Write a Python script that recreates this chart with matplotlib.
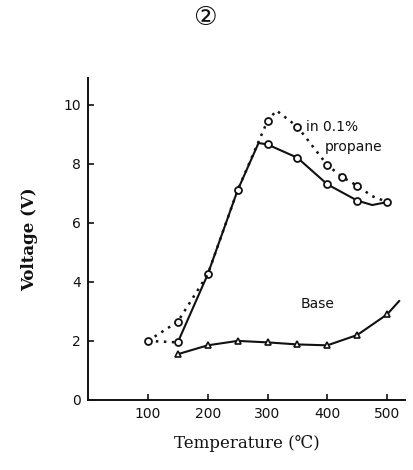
# Sensor voltage vs. temperature, base air and in 0.1% propane (scanned figure).

import matplotlib.pyplot as plt

# Readings taken off the scanned chart
temp_propane = [150, 200, 250, 285, 300, 350, 400, 450, 475, 500]
volt_propane = [1.95, 4.25, 7.1, 8.7, 8.65, 8.2, 7.3, 6.75, 6.6, 6.7]
mark_propane_t = [150, 200, 250, 300, 350, 400, 450, 500]
mark_propane_v = [1.95, 4.25, 7.1, 8.65, 8.2, 7.3, 6.75, 6.7]

temp_dotted = [100, 150, 200, 250, 300, 315, 350, 400, 425, 450, 475, 500]
volt_dotted = [2.0, 2.65, 4.25, 7.1, 9.45, 9.8, 9.25, 7.95, 7.55, 7.25, 6.9, 6.7]
mark_dotted_t = [100, 150, 300, 350, 400, 425, 450]
mark_dotted_v = [2.0, 2.65, 9.45, 9.25, 7.95, 7.55, 7.25]
link_t = [100, 150]
link_v = [2.0, 1.95]

temp_base = [150, 200, 250, 300, 350, 400, 450, 500, 520]
volt_base = [1.55, 1.85, 2.0, 1.95, 1.88, 1.85, 2.2, 2.9, 3.35]
mark_base_t = [150, 200, 250, 300, 350, 400, 450, 500]
mark_base_v = [1.55, 1.85, 2.0, 1.95, 1.88, 1.85, 2.2, 2.9]

x_ticks = [100, 200, 300, 400, 500]
y_ticks = [0, 2, 4, 6, 8, 10]

plt.rcParams['font.family'] = ['DejaVu Sans', 'Noto Sans CJK JP']

fig = plt.figure(figsize=(4.14, 4.70), dpi=100)
ax = fig.add_axes([0.2126, 0.149, 0.766, 0.685])

ink = '#111111'
ax.plot(temp_propane, volt_propane, color=ink, lw=1.5)
ax.plot(mark_propane_t, mark_propane_v, 'o', color=ink, mfc='white', ms=5, mew=1.3)

ax.plot(temp_dotted, volt_dotted, color=ink, lw=1.8, ls=(0, (1, 2.2)))
ax.plot(link_t, link_v, color=ink, lw=1.8, ls=(0, (1, 2.2)))
ax.plot(mark_dotted_t, mark_dotted_v, 'o', color=ink, mfc='white', ms=5, mew=1.3)

ax.plot(temp_base, volt_base, color=ink, lw=1.5)
ax.plot(mark_base_t, mark_base_v, '^', color=ink, mfc='white', ms=5, mew=1.2)

ax.set_xlim(0, 530)
ax.set_ylim(0, 10.9)
ax.set_xticks(x_ticks)
ax.set_yticks(y_ticks)
ax.tick_params(direction='in', length=4, width=1.2, labelsize=10, colors=ink, pad=5)
for s in ['top', 'right']:
    ax.spines[s].set_visible(False)
for s in ['left', 'bottom']:
    ax.spines[s].set_linewidth(1.4)
    ax.spines[s].set_color(ink)

ax.text(364, 9.25, 'in 0.1%', fontsize=10, color=ink, va='center')
ax.text(395, 8.55, 'propane', fontsize=10, color=ink, va='center')
ax.text(356, 3.25, 'Base', fontsize=10, color=ink, va='center')

ax.set_xlabel('Temperature (℃)', family=['DejaVu Serif', 'Noto Sans CJK JP'],
              fontsize=12, color=ink, labelpad=10)
ax.set_ylabel('Voltage (V)', family=['DejaVu Serif', 'Noto Sans CJK JP'],
              fontsize=12, fontweight='bold', color=ink, labelpad=18)

fig.text(0.495, 0.962, '②', ha='center', va='center', fontsize=19, color=ink,
         family=['DejaVu Sans', 'Noto Sans CJK JP'])

plt.savefig('out.png', dpi=100, facecolor='white')
